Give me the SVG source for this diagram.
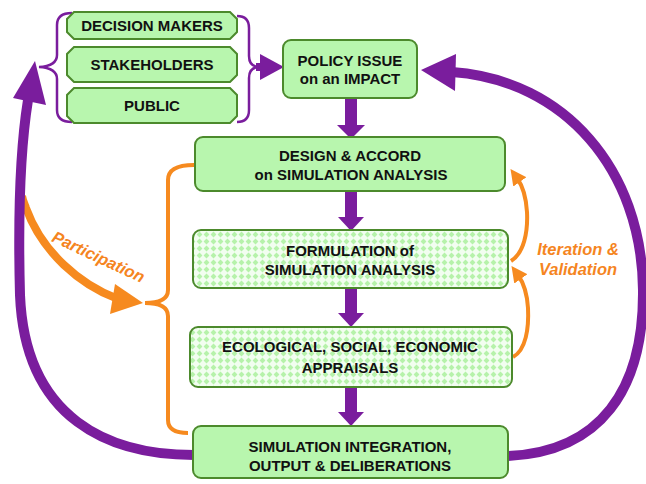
<svg xmlns="http://www.w3.org/2000/svg" width="646" height="484" viewBox="0 0 646 484">
<style>
.box{fill:#B8F6AE;stroke:#4C8A2C;stroke-width:2}
.pbox{fill:url(#dots);stroke:#4C8A2C;stroke-width:2}
.t{font-family:"Liberation Sans",Arial,sans-serif;font-weight:bold;font-size:15px;fill:#111;text-anchor:middle}
.ot{font-family:"Liberation Sans",Arial,sans-serif;font-weight:bold;font-style:italic;font-size:16.5px;fill:#F5851F;text-anchor:middle}
.pl{fill:none;stroke:#7A1D9D;stroke-width:10;stroke-linecap:butt}
.pf{fill:#7A1D9D}
.or{fill:none;stroke:#F68A1F;stroke-width:4}
.of{fill:#F68A1F}
.br{fill:none;stroke:#7A1D9D;stroke-width:2.5}
</style>
<defs>
<pattern id="dots" width="7" height="7" patternUnits="userSpaceOnUse">
<rect width="7" height="7" fill="#F2FEF0"/>
<polygon points="3.5,0.6 6.4,3.5 3.5,6.4 0.6,3.5" fill="#B6F2AA"/>
</pattern>
<marker id="oh" viewBox="0 0 10 10" refX="3" refY="5" markerWidth="4" markerHeight="4" orient="auto" markerUnits="strokeWidth">
<path d="M0,0 L10,5 L0,10 Z" fill="#F68A1F"/>
</marker>
</defs>

<g id="connectors">
<!-- orange participation arrow (emerges from under purple) -->
<path d="M22 196 C23 202 25 205 26 208 C42 252 80 285 118 299" fill="none" stroke="#F68A1F" stroke-width="8"/>
<polygon class="of" points="143,303 115,284 110,314"/>
<!-- left purple loop -->
<path class="pl" d="M194 455 C110 455 25 420 20 295 C18 220 20 150 28 100"/>
<polygon class="pf" points="35,61 13,98 46,105"/>
<!-- right purple loop -->
<path class="pl" d="M508 456 C600 452 644 390 643 290 C642 170 565 80 452 72"/>
<polygon class="pf" points="421,70 456,54 455,91"/>
<!-- vertical arrows -->
<rect class="pf" x="345" y="98" width="12" height="29"/>
<polygon class="pf" points="337,125 365,125 351,139"/>
<rect class="pf" x="345" y="191" width="12" height="28"/>
<polygon class="pf" points="338,217 364,217 351,231"/>
<rect class="pf" x="345" y="288" width="12" height="27"/>
<polygon class="pf" points="338,313 364,313 351,327"/>
<rect class="pf" x="345" y="387" width="12" height="27"/>
<polygon class="pf" points="338,412 364,412 351,426"/>
<!-- brace to policy arrow -->
<rect class="pf" x="256" y="63" width="6" height="8"/>
<polygon class="pf" points="260,54 284,67 260,80"/>
<!-- braces -->
<path class="br" d="M72 13 Q57 13 57 25 L57 55 Q57 66 39 67 Q57 68 57 79 L57 110 Q57 122 72 122"/>
<path class="br" d="M237 16 Q249 16 249 28 L249 56 Q249 66 258 67 Q249 68 249 78 L249 110 Q249 122 237 122"/>
<path class="or" d="M194 165 Q168 165 168 180 L168 290 Q168 303 145 303 Q168 303 168 316 L168 420 Q168 433 188 433"/>
<!-- iteration arrows -->
<path class="or" d="M511 261 C524 253 528 232 527 212 C526 195 522 185 517 178" marker-end="url(#oh)"/>
<path class="or" d="M513 357 C526 350 529 328 528 308 C527 292 523 282 518 275" marker-end="url(#oh)"/>
<text class="ot" x="96" y="262" transform="rotate(25 96 262)">Participation</text>
<text class="ot" x="578" y="255">Iteration &amp;</text>
<text class="ot" x="578" y="275">Validation</text>
</g>

<g id="decision-makers">
<polygon class="box" points="74,12 230,12 237,19 237,32 230,39 74,39 67,32 67,19"/>
<text class="t" x="152" y="31">DECISION MAKERS</text>
</g>
<g id="stakeholders">
<polygon class="box" points="74,47 230,47 237,54 237,75 230,82 74,82 67,75 67,54"/>
<text class="t" x="152" y="70">STAKEHOLDERS</text>
</g>
<g id="public">
<polygon class="box" points="74,88 230,88 237,95 237,116 230,123 74,123 67,116 67,95"/>
<text class="t" x="152" y="111">PUBLIC</text>
</g>
<g id="policy-issue">
<rect class="box" x="283" y="40" width="134" height="58" rx="8"/>
<text class="t" x="350" y="66">POLICY ISSUE</text>
<text class="t" x="350" y="84">on an IMPACT</text>
</g>
<g id="design-accord">
<rect class="box" x="195" y="137" width="310" height="54" rx="8"/>
<text class="t" x="350" y="161">DESIGN &amp; ACCORD</text>
<text class="t" x="351" y="180">on SIMULATION ANALYSIS</text>
</g>
<g id="formulation">
<rect class="pbox" x="193" y="230" width="315" height="58" rx="8"/>
<text class="t" x="350" y="256">FORMULATION of</text>
<text class="t" x="350" y="275">SIMULATION ANALYSIS</text>
</g>
<g id="appraisals">
<rect class="pbox" x="190" y="327" width="322" height="60" rx="8"/>
<text class="t" x="350" y="352">ECOLOGICAL, SOCIAL, ECONOMIC</text>
<text class="t" x="350" y="373">APPRAISALS</text>
</g>
<g id="integration">
<rect class="box" x="193" y="426" width="315" height="52" rx="8"/>
<text class="t" x="350" y="452">SIMULATION INTEGRATION,</text>
<text class="t" x="350" y="471">OUTPUT &amp; DELIBERATIONS</text>
</g>
</svg>
